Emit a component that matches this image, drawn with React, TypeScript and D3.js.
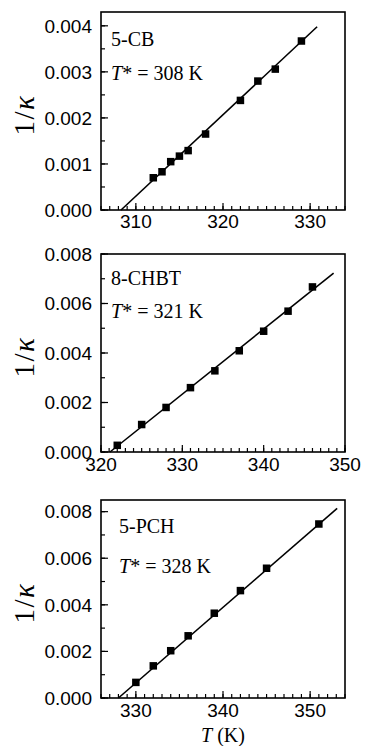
import React from "react";
import * as d3 from "d3";

// Panel 1: 5-CB
const t1 = [312, 313, 314, 315, 316, 318, 322, 324, 326, 329];
const v1 = [0.0007, 0.00083, 0.00105, 0.00117, 0.00129, 0.00165, 0.00238, 0.0028, 0.00306, 0.00367];
const fit1T = [308.3, 330.8];
const fit1V = [0, 0.00398];
// Panel 2: 8-CHBT
const t2 = [322, 325, 328, 331, 334, 337, 340, 343, 346];
const v2 = [0.00027, 0.00111, 0.0018, 0.0026, 0.00328, 0.00409, 0.00488, 0.00569, 0.00667];
const fit2T = [321.1, 348.6];
const fit2V = [0, 0.00723];
// Panel 3: 5-PCH
const t3 = [330, 332, 334, 336, 339, 342, 345, 351];
const v3 = [0.00067, 0.00138, 0.00203, 0.00267, 0.00364, 0.00461, 0.00557, 0.00747];
const fit3T = [328.0, 353.1];
const fit3V = [0, 0.00814];

const xTicks1 = [310, 320, 330];
const xTicks2 = [320, 330, 340, 350];
const xTicks3 = [330, 340, 350];
const yTicks1 = [0, 0.001, 0.002, 0.003, 0.004];
const yTicks23 = [0, 0.002, 0.004, 0.006, 0.008];

const names = ["5-CB", "8-CHBT", "5-PCH"];
const tstars = ["308", "321", "328"];

type PanelDef = {
  top: number;
  bottom: number;
  xDom: [number, number];
  yDom: [number, number];
  xTicks: number[];
  yTicks: number[];
  xMinorStep: number;
  yMinorStep: number;
  T: number[];
  V: number[];
  fitT: number[];
  fitV: number[];
  name: string;
  tstar: string;
  textX: number;
  nameY: number;
  tstarY: number;
  tickLabelY: number;
};

const L = 101;
const R = 345;

const panels: PanelDef[] = [
  {
    top: 12, bottom: 210, xDom: [306, 334], yDom: [0, 0.0043],
    xTicks: xTicks1, yTicks: yTicks1, xMinorStep: 1, yMinorStep: 0.0005,
    T: t1, V: v1, fitT: fit1T, fitV: fit1V, name: names[0], tstar: tstars[0],
    textX: 111, nameY: 46, tstarY: 80, tickLabelY: 228,
  },
  {
    top: 254, bottom: 452, xDom: [320, 350], yDom: [0, 0.008],
    xTicks: xTicks2, yTicks: yTicks23, xMinorStep: 1, yMinorStep: 0.001,
    T: t2, V: v2, fitT: fit2T, fitV: fit2V, name: names[1], tstar: tstars[1],
    textX: 111, nameY: 285, tstarY: 318, tickLabelY: 471,
  },
  {
    top: 500, bottom: 698, xDom: [326, 354], yDom: [0, 0.0085],
    xTicks: xTicks3, yTicks: yTicks23, xMinorStep: 1, yMinorStep: 0.001,
    T: t3, V: v3, fitT: fit3T, fitV: fit3V, name: names[2], tstar: tstars[2],
    textX: 119, nameY: 533, tstarY: 573, tickLabelY: 717,
  },
];

const sans = "'Liberation Sans', Arial, Helvetica, sans-serif";
const serif = "'Liberation Serif', 'Times New Roman', serif";

function Panel({ p }: { p: PanelDef }) {
  const x = d3.scaleLinear().domain(p.xDom).range([L, R]);
  const y = d3.scaleLinear().domain(p.yDom).range([p.bottom, p.top]);
  const xMinor = d3.range(Math.ceil(p.xDom[0]), p.xDom[1] + 1e-9, p.xMinorStep);
  const yMinor = d3.range(0, p.yDom[1] + 1e-12, p.yMinorStep);
  const line = d3.line<number>().x((_, i) => x(p.fitT[i])).y((d) => y(d));
  const sq = 7.5;
  const cy = (p.top + p.bottom) / 2 + 4;
  return (
    <g>
      {xMinor.map((t, i) => (
        <line key={"xm" + i} x1={x(t)} x2={x(t)} y1={p.bottom} y2={p.bottom - 4} stroke="#000" strokeWidth={1.2} />
      ))}
      {p.xTicks.map((t, i) => (
        <g key={"xt" + i}>
          <line x1={x(t)} x2={x(t)} y1={p.bottom} y2={p.bottom - 7} stroke="#000" strokeWidth={1.2} />
          <text x={x(t)} y={p.tickLabelY} textAnchor="middle" fontFamily={sans} fontSize={19} fill="#000">
            {t}
          </text>
        </g>
      ))}
      {yMinor.map((v, i) => (
        <line key={"ym" + i} x1={L} x2={L + 4} y1={y(v)} y2={y(v)} stroke="#000" strokeWidth={1.2} />
      ))}
      {p.yTicks.map((v, i) => (
        <g key={"yt" + i}>
          <line x1={L} x2={L + 7} y1={y(v)} y2={y(v)} stroke="#000" strokeWidth={1.2} />
          <text x={92} y={y(v)} dy="0.36em" textAnchor="end" fontFamily={sans} fontSize={19} fill="#000">
            {v.toFixed(3)}
          </text>
        </g>
      ))}
      <rect x={L} y={p.top} width={R - L} height={p.bottom - p.top} fill="none" stroke="#000" strokeWidth={1.6} />
      <path d={line(p.fitV) || ""} fill="none" stroke="#000" strokeWidth={1.6} />
      {p.T.map((t, i) => (
        <rect key={"pt" + i} x={x(t) - sq / 2} y={y(p.V[i]) - sq / 2} width={sq} height={sq} fill="#000" />
      ))}
      <text x={p.textX} y={p.nameY} fontFamily={serif} fontSize={20} fill="#000">
        {p.name}
      </text>
      <text x={p.textX} y={p.tstarY} fontFamily={serif} fontSize={20} fill="#000">
        <tspan fontStyle="italic">T</tspan>
        <tspan>{"* = " + p.tstar + " K"}</tspan>
      </text>
      <text
        transform={`translate(34,${cy}) rotate(-90)`}
        textAnchor="middle"
        fontFamily={serif}
        fontSize={29}
        letterSpacing={1.5}
        fill="#000"
      >
        <tspan>1/</tspan>
        <tspan fontStyle="italic">κ</tspan>
      </text>
    </g>
  );
}

export default function App() {
  return (
    <svg
      width={366}
      height={746}
      style={{ position: "absolute", left: 0, top: 0, background: "#fff" }}
    >
      <rect x={0} y={0} width={366} height={746} fill="#fff" />
      {panels.map((p, i) => (
        <Panel key={i} p={p} />
      ))}
      <text x={223} y={742} textAnchor="middle" fontFamily={serif} fontSize={20} fill="#000">
        <tspan fontStyle="italic">T</tspan>
        <tspan>{" (K)"}</tspan>
      </text>
    </svg>
  );
}
